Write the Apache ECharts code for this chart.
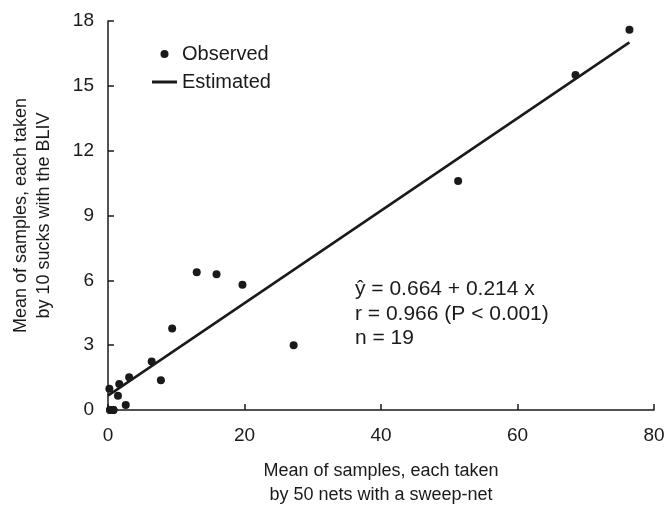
<!DOCTYPE html>
<html>
<head>
<meta charset="utf-8">
<script src="https://cdn.jsdelivr.net/npm/echarts@6/dist/echarts.min.js"></script>
<style>html,body{margin:0;padding:0;background:#fff;}#c{width:671px;height:507px;}</style>
</head>
<body>
<div id="c"></div>
<script>
var obsX = [76.4, 68.5, 51.3, 27.2, 19.7, 15.9, 13.0, 9.4, 7.75, 6.4, 3.1, 1.65, 0.2, 1.46, 2.6, 0.3, 0.8, 0.3, 0.8];
var obsY = [17.6, 15.5, 10.6, 3.0, 5.8, 6.28, 6.37, 3.77, 1.38, 2.24, 1.52, 1.2, 0.98, 0.66, 0.23, 0, 0, 0, 0];
var estX = [0, 76.4];
var estY = [0.664, 17.01];
var xTicks = [0, 20, 40, 60, 80];
var yTicks = [0, 3, 6, 9, 12, 15, 18];
var annotation = ['\u0177 = 0.664 + 0.214 x', 'r = 0.966 (P < 0.001)', 'n = 19'];

var FONT = '"Liberation Sans", Arial, sans-serif';
var INK = '#1a1a1a';
var chart = echarts.init(document.getElementById('c'), null, {renderer: 'canvas'});
var obs = obsX.map(function (x, i) { return [x, obsY[i]]; });
var est = estX.map(function (x, i) { return [x, estY[i]]; });

chart.setOption({
  animation: false,
  backgroundColor: '#ffffff',
  textStyle: {fontFamily: FONT},
  grid: {left: 108, right: 17, top: 21, bottom: 97, containLabel: false, outerBoundsMode: 'none'},
  legend: {
    orient: 'vertical', left: 147, top: 39, itemWidth: 25, itemHeight: 8, itemGap: 8,
    textStyle: {fontFamily: FONT, fontSize: 20, color: INK},
    data: [
      {name: 'Observed', icon: 'circle'},
      {name: 'Estimated', icon: 'path://M0,0H25V3H0Z'}
    ]
  },
  xAxis: {
    type: 'value', min: xTicks[0], max: xTicks[xTicks.length - 1], interval: 20,
    name: 'Mean of samples, each taken\nby 50 nets with a sweep-net',
    nameLocation: 'middle', nameGap: 49,
    nameTextStyle: {fontFamily: FONT, fontSize: 18, color: INK, lineHeight: 24},
    axisLine: {show: true, lineStyle: {color: INK, width: 1.5}},
    axisTick: {show: true, inside: true, length: 6, lineStyle: {color: INK, width: 1.5}},
    axisLabel: {fontFamily: FONT, fontSize: 19, color: INK, margin: 16},
    splitLine: {show: false}
  },
  yAxis: {
    type: 'value', min: yTicks[0], max: yTicks[yTicks.length - 1], interval: 3,
    name: 'Mean of samples, each taken\nby 10 sucks with the BLIV',
    nameLocation: 'middle', nameGap: 52,
    nameTextStyle: {fontFamily: FONT, fontSize: 18, color: INK, lineHeight: 23},
    axisLine: {show: true, lineStyle: {color: INK, width: 1.5}},
    axisTick: {show: true, inside: true, length: 6, lineStyle: {color: INK, width: 1.5}},
    axisLabel: {fontFamily: FONT, fontSize: 19, color: INK, margin: 14},
    splitLine: {show: false}
  },
  graphic: [{
    type: 'text', left: 355, top: 277, silent: true,
    style: {text: annotation.join('\n'), fill: INK, font: '21px ' + FONT, lineHeight: 24.5}
  }],
  series: [
    {
      name: 'Estimated', type: 'line', data: est, showSymbol: false, symbol: 'none',
      lineStyle: {color: INK, width: 2.5}, itemStyle: {color: INK}, z: 2
    },
    {
      name: 'Observed', type: 'scatter', data: obs, symbol: 'circle', symbolSize: 8,
      itemStyle: {color: INK, opacity: 1}, z: 3
    }
  ]
});
</script>
</body>
</html>
